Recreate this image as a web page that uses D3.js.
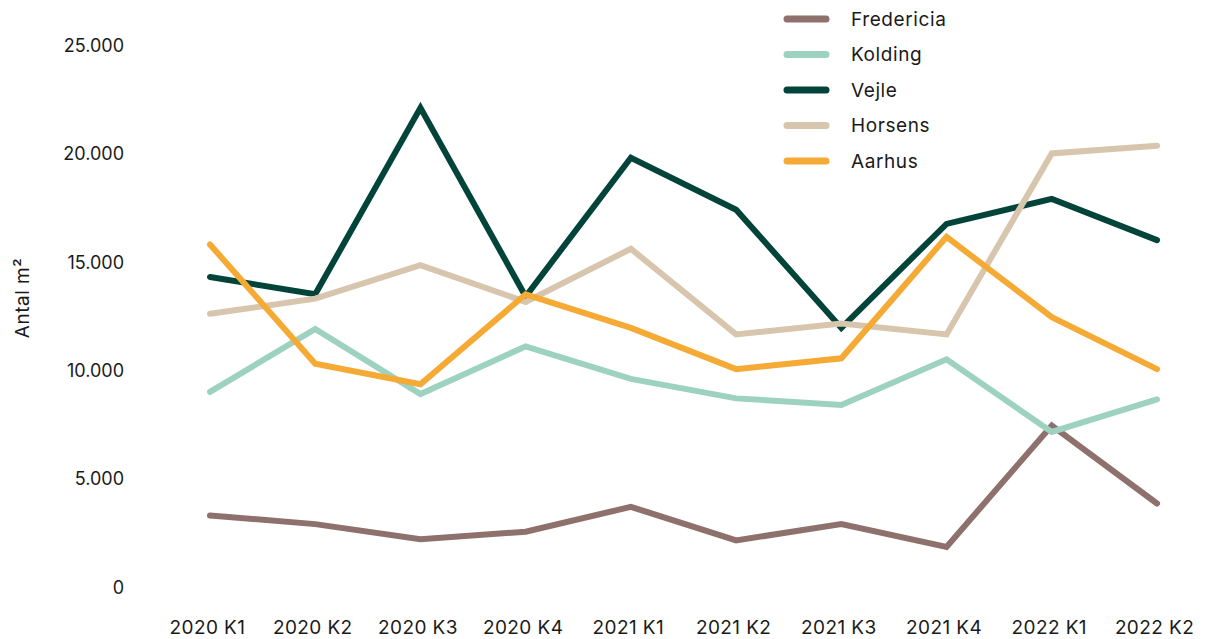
<!DOCTYPE html>
<html><head><meta charset="utf-8">
<script src="https://cdn.jsdelivr.net/npm/d3@7"></script>
<style>body{margin:0;background:#fff}svg{display:block}text{font-family:Inter,"Noto Sans",sans-serif;fill:#1a1a1a}</style>
</head><body><svg id="c" width="1210" height="639"></svg>
<script>
const categories = ["2020 K1","2020 K2","2020 K3","2020 K4","2021 K1","2021 K2","2021 K3","2021 K4","2022 K1","2022 K2"];
const seriesNames = ["Fredericia","Kolding","Vejle","Horsens","Aarhus"];
const fredericia = [3300,2900,2200,2550,3700,2150,2900,1850,7450,3850];
const kolding = [9000,11900,8900,11100,9600,8700,8400,10500,7150,8650];
const vejle = [14300,13500,22100,13400,19800,17400,11950,16750,17900,16000];
const horsens = [12600,13300,14850,13150,15600,11650,12150,11650,20000,20350];
const aarhus = [15800,10300,9350,13500,11950,10050,10550,16150,12450,10050];
const yTicks = [0,5000,10000,15000,20000,25000];
const colors = ["#8e716c","#9dd2c1","#03443a","#d8c5ae","#f4aa35"];
const values = [fredericia,kolding,vejle,horsens,aarhus];

const svg = d3.select("#c");
const x = d3.scalePoint().domain(categories).range([210,1157]);
const y = d3.scaleLinear().domain([0,25000]).range([587,45]);
const fmt = v => d3.format(",")(v).replace(/,/g,".");

const yAxis = svg.append("g").attr("transform","translate(124,0)")
  .call(d3.axisLeft(y).tickValues(yTicks).tickFormat(fmt).tickSize(0).tickPadding(0));
yAxis.select(".domain").remove();
yAxis.selectAll("text").attr("font-size",18).attr("dy","0.35em").style("font-family","Inter");

const xAxis = svg.append("g").attr("transform","translate(0,627)")
  .call(d3.axisBottom(x).tickSize(0).tickPadding(0));
xAxis.select(".domain").remove();
xAxis.selectAll("text").attr("font-size",19).attr("dy","0.35em").attr("dx","-3")
  .style("font-family","Inter").style("letter-spacing","0.4px");

svg.append("text").attr("transform","translate(22,298) rotate(-90)")
  .attr("text-anchor","middle").attr("dy","0.35em").attr("font-size",19)
  .style("letter-spacing","0.5px").text("Antal m²");

const line = d3.line().x((d,i)=>x(categories[i])).y(d=>y(d));
values.forEach((vals,k)=>{
  svg.append("path").datum(vals).attr("d",line).attr("fill","none")
    .attr("stroke",colors[k]).attr("stroke-width",6)
    .attr("stroke-linecap","round").attr("stroke-linejoin","miter");
});

const leg = svg.append("g");
seriesNames.forEach((n,k)=>{
  const yy = 19 + k*35.5;
  leg.append("line").attr("x1",787).attr("x2",826).attr("y1",yy).attr("y2",yy)
    .attr("stroke",colors[k]).attr("stroke-width",7).attr("stroke-linecap","round");
  leg.append("text").attr("x",851).attr("y",yy).attr("dy","0.35em").attr("font-size",19)
    .style("letter-spacing","0.6px").text(n);
});
</script></body></html>
